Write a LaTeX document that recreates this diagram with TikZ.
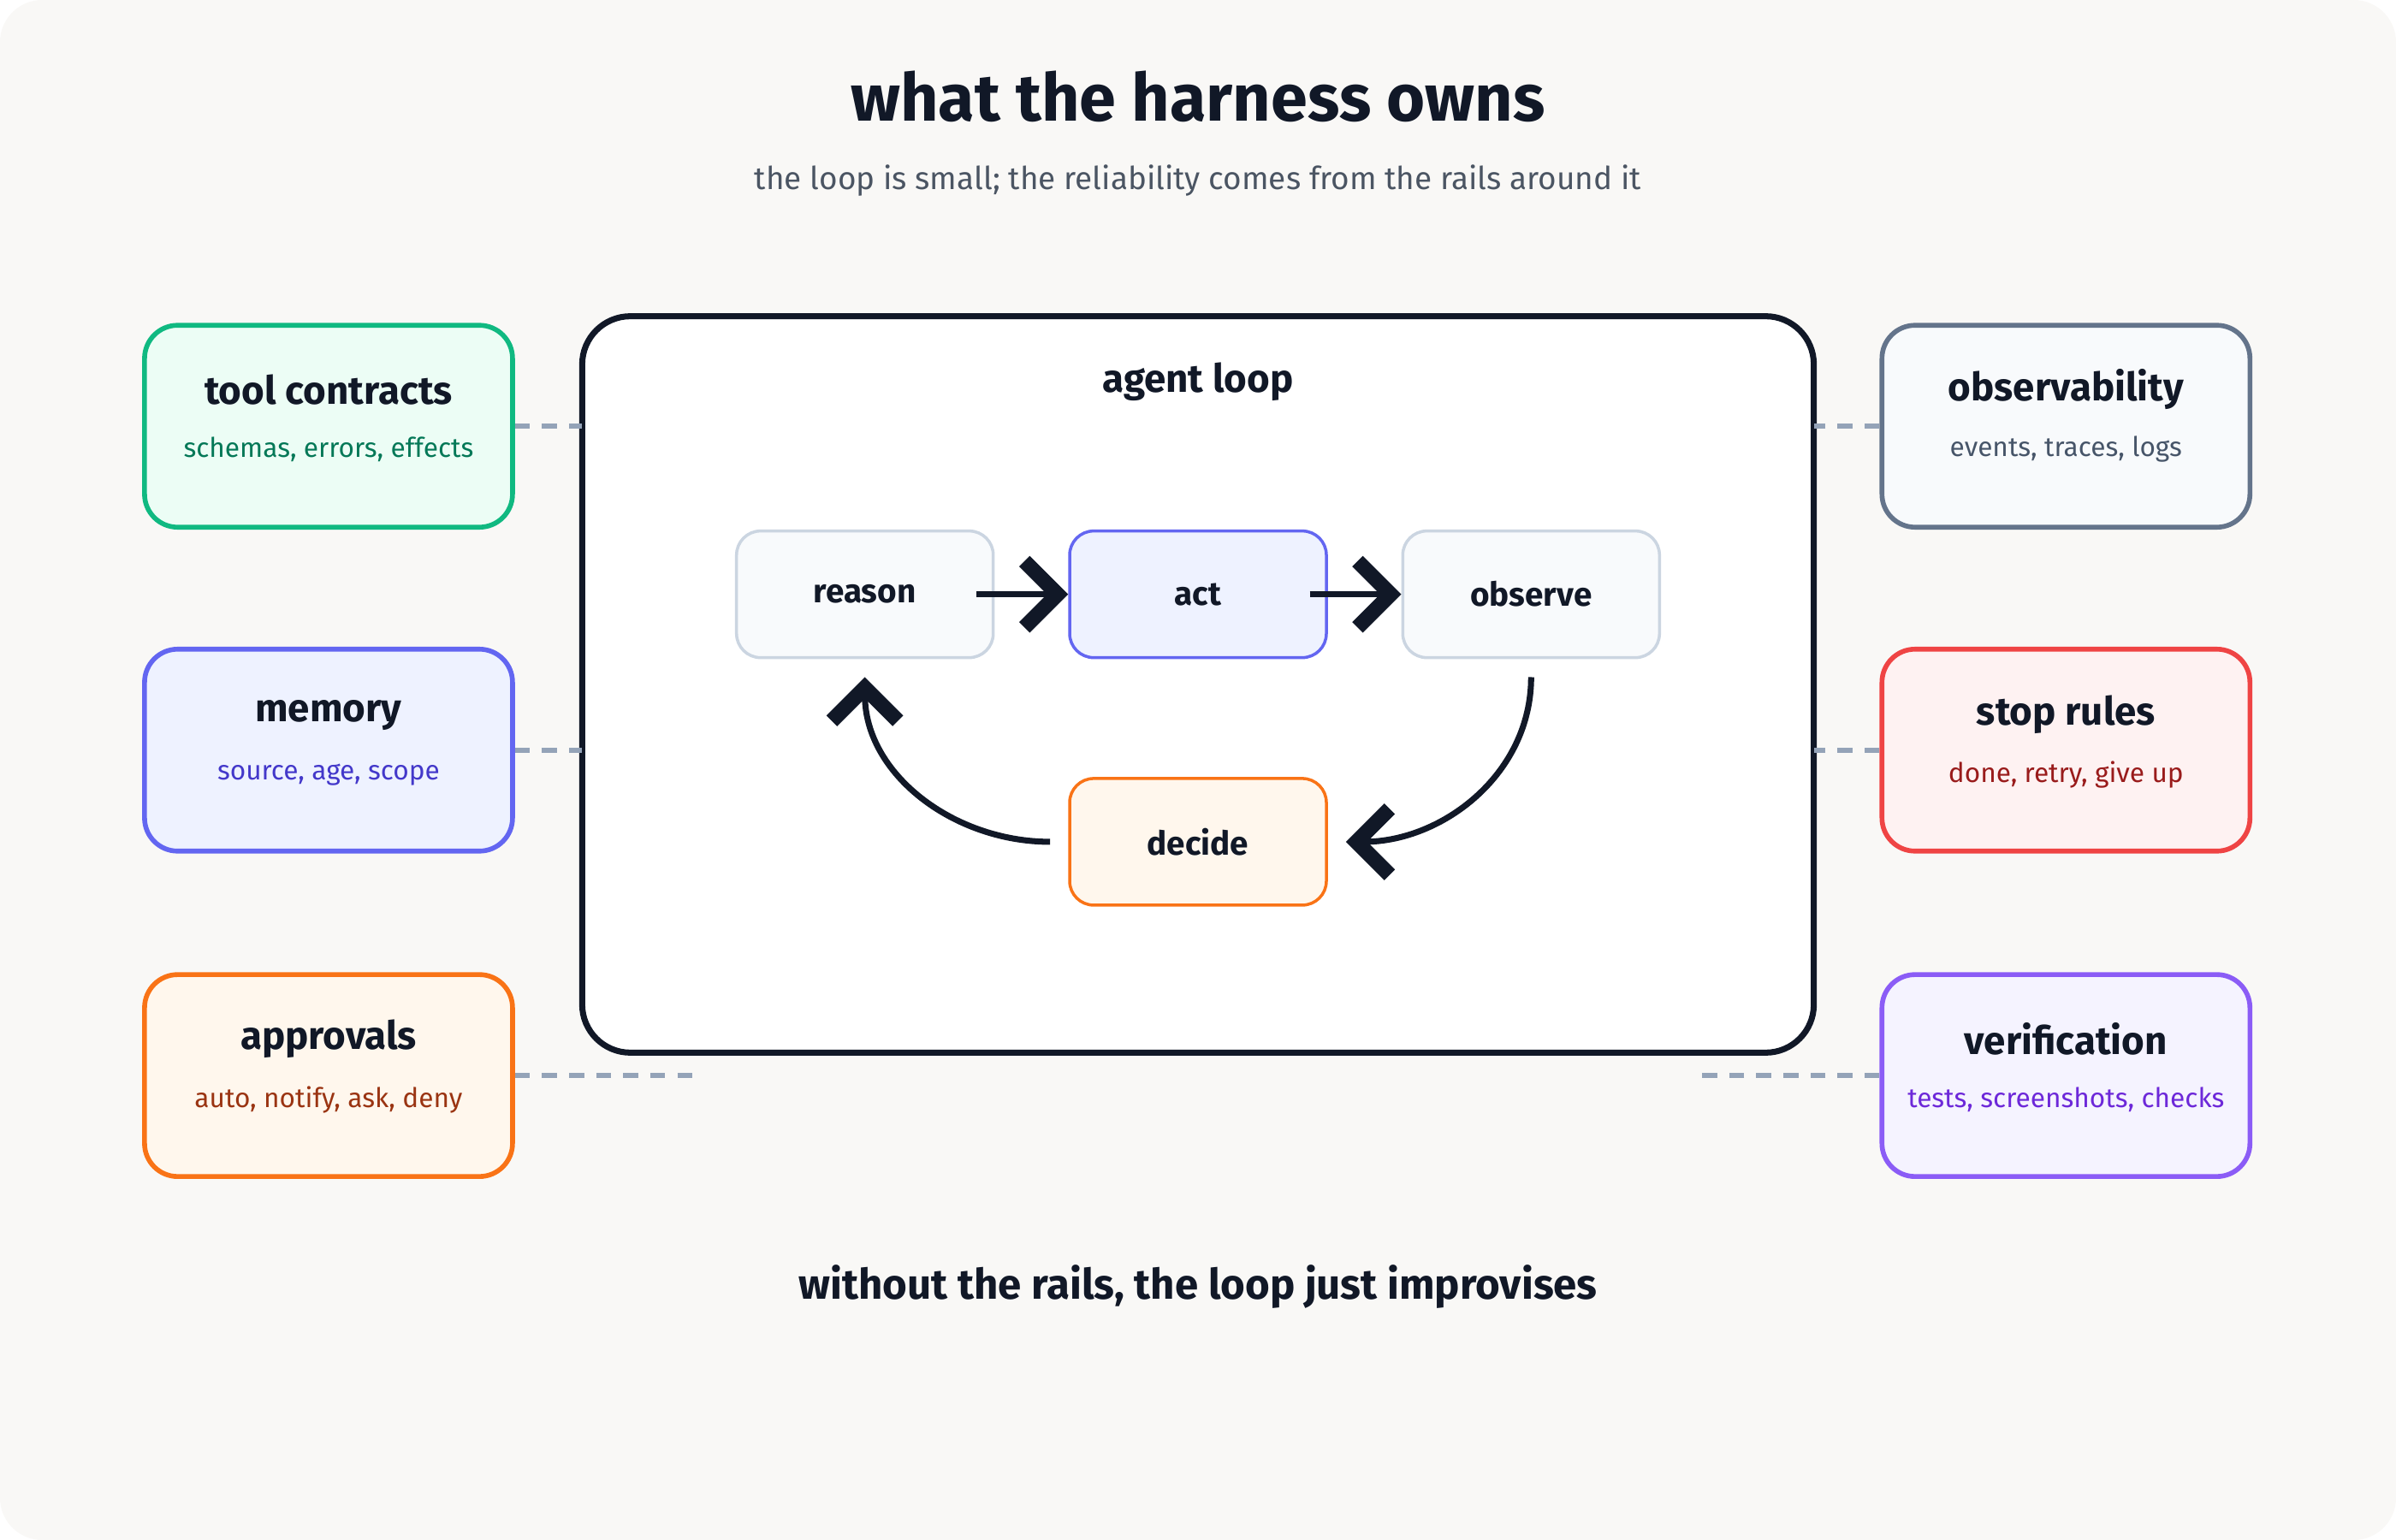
\documentclass[tikz,border=0pt]{standalone}
\usepackage{fontspec}
\setmainfont{Fira Sans}
\usetikzlibrary{arrows.meta,positioning}
\definecolor{ink}{HTML}{111827}
\definecolor{subgray}{HTML}{4B5563}
\definecolor{bgpaper}{HTML}{F9F8F6}
\definecolor{railgray}{HTML}{94A3B8}
\definecolor{slateline}{HTML}{CBD5E1}
\definecolor{slatefill}{HTML}{F8FAFC}
\definecolor{indigoline}{HTML}{6366F1}
\definecolor{indigofill}{HTML}{EEF2FF}
\definecolor{indigotext}{HTML}{4338CA}
\definecolor{orangeline}{HTML}{F97316}
\definecolor{orangefill}{HTML}{FFF7ED}
\definecolor{orangetext}{HTML}{9A3412}
\definecolor{greenline}{HTML}{10B981}
\definecolor{greenfill}{HTML}{ECFDF5}
\definecolor{greentext}{HTML}{047857}
\definecolor{grayline}{HTML}{64748B}
\definecolor{graytext}{HTML}{475569}
\definecolor{redline}{HTML}{EF4444}
\definecolor{redfill}{HTML}{FEF2F2}
\definecolor{redtext}{HTML}{991B1B}
\definecolor{violetline}{HTML}{8B5CF6}
\definecolor{violetfill}{HTML}{F5F3FF}
\definecolor{violettext}{HTML}{6D28D9}

\begin{document}
\begin{tikzpicture}[
    x=1cm/56, y=-1cm/56,
    every node/.style={
        text=ink,
    },
    railbox/.style={
        draw, line width=1.6pt, rounded corners=11pt,
        minimum width=4.3cm, minimum height=2.36cm,
    },
    stepbox/.style={
        draw, line width=1pt, rounded corners=8pt,
        minimum width=3cm, minimum height=1.48cm,
        font=\fontsize{11}{13}\selectfont\bfseries,
    },
    boxtitle/.style={font=\fontsize{13}{15}\selectfont\bfseries},
    boxsub/.style={font=\fontsize{9}{11}\selectfont},
    rail/.style={railgray, line width=1.6pt, dash pattern=on 5pt off 4pt},
    loopedge/.style={ink, line width=2pt,
        -{Straight Barb[length=11pt,width=22pt,line width=5pt]}},
]
    % background and frame
    \fill[bgpaper, rounded corners=14pt] (0,0) rectangle (1568,1008);
    \node[font=\fontsize{22}{26}\selectfont\bfseries] (title) at (784,63) {what the harness owns};
    \node[font=\fontsize{10.5}{13}\selectfont, text=subgray] (subtitle) at (784,118)
        {the loop is small; the reliability comes from the rails around it};

    % agent loop
    \draw[ink, line width=2pt, fill=white, rounded corners=16pt] (381,207) rectangle (1187,689);
    \node[boxtitle] (looptitle) at (784,250) {agent loop};
    \node[stepbox, draw=slateline, fill=slatefill] (reason) at (566,389) {reason};
    \node[stepbox, draw=indigoline, fill=indigofill] (act) at (784,389) {act};
    \node[stepbox, draw=slateline, fill=slatefill] (observe) at (1002,389) {observe};
    \node[stepbox, draw=orangeline, fill=orangefill] (decide) at (784,551) {decide};
    \draw[loopedge] ([xshift=-6pt]reason.east) -- (act.west);
    \draw[loopedge] ([xshift=-6pt]act.east) -- (observe.west);
    \draw[loopedge] ([yshift=-6pt]observe.south) to[out=-90,in=0] ([xshift=6pt]decide.east);
    \draw[loopedge] ([xshift=-6pt]decide.west) to[out=180,in=-90] ([yshift=-6pt]reason.south);

    % rails, left
    \node[railbox, draw=greenline, fill=greenfill] (tools) at (215,279) {};
    \node[boxtitle] at (215,255) {tool contracts};
    \node[boxsub, text=greentext] at (215,294) {schemas, errors, effects};
    \node[railbox, draw=indigoline, fill=indigofill] (memory) at (215,491) {};
    \node[boxtitle] at (215,468) {memory};
    \node[boxsub, text=indigotext] at (215,507) {source, age, scope};
    \node[railbox, draw=orangeline, fill=orangefill] (approvals) at (215,704) {};
    \node[boxtitle] at (215,680) {approvals};
    \node[boxsub, text=orangetext] at (215,720) {auto, notify, ask, deny};

    % rails, right
    \node[railbox, draw=grayline, fill=slatefill] (observ) at (1352,279) {};
    \node[boxtitle] at (1352,255) {observability};
    \node[boxsub, text=graytext] at (1352,294) {events, traces, logs};
    \node[railbox, draw=redline, fill=redfill] (stop) at (1352,491) {};
    \node[boxtitle] at (1352,468) {stop rules};
    \node[boxsub, text=redtext] at (1352,507) {done, retry, give up};
    \node[railbox, draw=violetline, fill=violetfill] (verify) at (1352,704) {};
    \node[boxtitle] at (1352,680) {verification};
    \node[boxsub, text=violettext] at (1352,720) {tests, screenshots, checks};

    \coordinate (apend) at (460,704);
    \coordinate (verend) at (1107,704);
    \draw[rail] (tools.east) -- (381,279);
    \draw[rail] (memory.east) -- (381,491);
    \draw[rail] (approvals.east) -- (apend);
    \draw[rail] (observ.west) -- (1187,279);
    \draw[rail] (stop.west) -- (1187,491);
    \draw[rail] (verify.west) -- (verend);

    \node[font=\fontsize{14}{17}\selectfont\bfseries] (footer) at (784,842)
        {without the rails, the loop just improvises};
\end{tikzpicture}
\end{document}
